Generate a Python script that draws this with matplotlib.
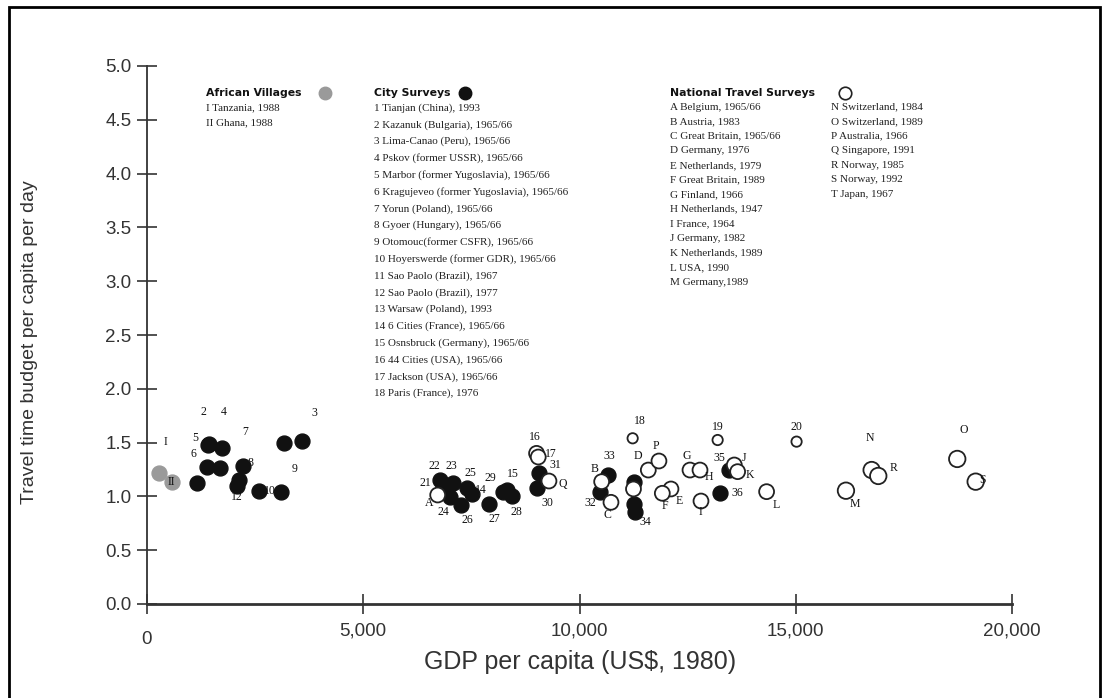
import matplotlib
matplotlib.use('Agg')
import matplotlib.pyplot as plt
from matplotlib.patches import Rectangle

W, H = 1109, 698

# --- African villages (grey) ---
vil_gdp = [285, 571]
vil_ttb = [1.215, 1.137]
vil_lab = ['I', 'II']

# --- city surveys, filled ---
city_gdp = [1688, 1440, 3167, 1727, 1418, 1380, 2213, 2127, 3091, 2597, 1163, 2074, 3591,
            7514, 8324, 9063, 9007, 6851, 6774, 7083, 7005, 7392, 7260, 7907, 8431, 8223,
            10651, 10474, 11268, 11268, 11286, 13456, 13248]
city_ttb = [1.26, 1.49, 1.499, 1.447, 1.478, 1.276, 1.283, 1.152, 1.038, 1.050, 1.122, 1.097, 1.518,
            1.022, 1.060, 1.215, 1.081, 1.112, 1.152, 1.122, 0.997, 1.075, 0.920, 0.927, 1.004, 1.040,
            1.199, 1.044, 1.13, 0.93, 0.858, 1.245, 1.029]
city_lab = ['1', '2', '3', '4', '5', '6', '7', '8', '9', '10', '11', '12', '13',
            '14', '15', '31', '30', '21', '22', '23', '24', '25', '26', '27', '28', '29',
            '33', '32', '', '', '34', '35', '36']
city_off = [(0, 0), (-6, 32), (30, 30), (2, 36), (-13, 7), (-13, 13), (2, 34), (12, 17), (14, 23),
            (11, 0), (0, 0), (0, -11), (0, 0),
            (9, 4), (6, 16), (16, 8), (11, -15), (-18, 1), (-6, 14), (-2, 17), (-7, -15), (4, 15),
            (6, -15), (5, -15), (5, -16), (-12, 14),
            (2, 19), (-10, -11), (0, 0), (0, 0), (10, -10), (-10, 12), (17, 0)]

# --- city surveys shown hollow ---
cityo_gdp = [9007, 9046, 11229, 13194, 15019]
cityo_ttb = [1.400, 1.366, 1.540, 1.524, 1.509]
cityo_lab = ['16', '17', '18', '19', '20']
cityo_off = [(-2, 16), (13, 3), (7, 17), (0, 13), (0, 15)]
cityo_size = [115, 115, 55, 55, 55]

# --- national travel surveys (hollow) ---
nat_gdp = [6721, 10512, 10728, 11591, 12115, 11915, 12555, 12786, 12809, 13579, 13656, 14326,
           16161, 16755, 18734, 11837, 9294, 16908, 19160, 11248]
nat_ttb = [1.013, 1.137, 0.945, 1.245, 1.069, 1.029, 1.245, 1.245, 0.957, 1.292, 1.230, 1.044,
           1.053, 1.245, 1.348, 1.329, 1.143, 1.190, 1.137, 1.069]
nat_lab = ['A', 'B', 'C', 'D', 'E', 'F', 'G', 'H', 'I', 'J', 'K', 'L',
           'M', 'N', 'O', 'P', 'Q', 'R', 'S', '']
nat_off = [(-9, -8), (-7, 13), (-4, -13), (-10, 14), (8, -12), (3, -13), (-3, 14), (9, -7), (-1, -11),
           (10, 7), (12, -3), (10, -13), (9, -13), (-2, 32), (7, 29), (-3, 15), (14, -3), (15, 8),
           (7, 2), (0, 0)]
nat_size = [115] * 12 + [140, 140, 140, 115, 115, 140, 140, 115]

# key texts
vil_names = ['I Tanzania, 1988', 'II Ghana, 1988']
city_names = ['1 Tianjan (China), 1993', '2 Kazanuk (Bulgaria), 1965/66',
              '3 Lima-Canao (Peru), 1965/66', '4 Pskov (former USSR), 1965/66',
              '5 Marbor (former Yugoslavia), 1965/66', '6 Kragujeveo (former Yugoslavia), 1965/66',
              '7 Yorun (Poland), 1965/66', '8 Gyoer (Hungary), 1965/66',
              '9 Otomouc(former CSFR), 1965/66', '10 Hoyerswerde (former GDR), 1965/66',
              '11 Sao Paolo (Brazil), 1967', '12 Sao Paolo (Brazil), 1977',
              '13 Warsaw (Poland), 1993', '14 6 Cities (France), 1965/66',
              '15 Osnsbruck (Germany), 1965/66', '16 44 Cities (USA), 1965/66',
              '17 Jackson (USA), 1965/66', '18 Paris (France), 1976']
nat_names1 = ['A Belgium, 1965/66', 'B Austria, 1983', 'C Great Britain, 1965/66',
              'D Germany, 1976', 'E Netherlands, 1979', 'F Great Britain, 1989',
              'G Finland, 1966', 'H Netherlands, 1947', 'I France, 1964',
              'J Germany, 1982', 'K Netherlands, 1989', 'L USA, 1990', 'M Germany,1989']
nat_names2 = ['N Switzerland, 1984', 'O Switzerland, 1989', 'P Australia, 1966',
              'Q Singapore, 1991', 'R Norway, 1985', 'S Norway, 1992', 'T Japan, 1967']

xticks = [0, 5000, 10000, 15000, 20000]
xticklabels = ['', '5,000', '10,000', '15,000', '20,000']
yticks = [0.0, 0.5, 1.0, 1.5, 2.0, 2.5, 3.0, 3.5, 4.0, 4.5, 5.0]

SANS = ['Liberation Sans', 'DejaVu Sans']
SERIF = ['Liberation Serif', 'DejaVu Serif']
GREY = '#9a9a9a'
INK = '#111111'
AXC = '#333333'


def fx(px):
    return px / W


def fy(py):
    return 1 - py / H


fig = plt.figure(figsize=(W / 100, H / 100), dpi=100)
ax = fig.add_axes([fx(147), fy(604), (1012 - 147) / W, (604 - 66) / H])

ms = 115
ax.scatter(vil_gdp, vil_ttb, s=ms, c=GREY, edgecolors=GREY, zorder=3)
ax.scatter(city_gdp, city_ttb, s=ms, c=INK, edgecolors=INK, zorder=3)
ax.scatter(cityo_gdp, cityo_ttb, s=cityo_size, facecolors='white', edgecolors='#222222',
           linewidths=1.3, zorder=4)
ax.scatter(nat_gdp, nat_ttb, s=nat_size, facecolors='white', edgecolors='#222222',
           linewidths=1.3, zorder=4)


def put_labels(xs, ys, labs, offs):
    for x, y, t, o in zip(xs, ys, labs, offs):
        if t:
            ax.annotate(t, (x, y), xytext=o, textcoords='offset pixels', ha='center', va='center',
                        fontsize=8.5, family=SERIF, color=INK, zorder=5)


put_labels(vil_gdp, vil_ttb, vil_lab, [(6, 31), (0, 0)])
put_labels(city_gdp, city_ttb, city_lab, city_off)
put_labels(cityo_gdp, cityo_ttb, cityo_lab, cityo_off)
put_labels(nat_gdp, nat_ttb, nat_lab, nat_off)

ax.set_xlim(0, 20000)
ax.set_ylim(0, 5)
ax.set_xticks(xticks)
ax.set_xticklabels(xticklabels)
ax.set_yticks(yticks)
ax.set_yticklabels(['%.1f' % v for v in yticks])
for s in ['top', 'right']:
    ax.spines[s].set_visible(False)
for s in ['left', 'bottom']:
    ax.spines[s].set_color(AXC)
    ax.spines[s].set_linewidth(1.3)
ax.spines['bottom'].set_linewidth(2.0)
ax.tick_params(direction='inout', length=14, width=1.2, color=AXC, labelcolor=AXC,
               labelsize=13.5)
ax.tick_params(axis='x', pad=6)
ax.tick_params(axis='y', pad=4)
for lab in ax.get_xticklabels() + ax.get_yticklabels():
    lab.set_family(SANS)
# the zero sits a little lower than the other x labels
ax.text(0, -0.05, '0', transform=ax.get_xaxis_transform(), ha='center', va='top',
        fontsize=13.5, family=SANS, color=AXC)

fig.text(fx(580), fy(662), 'GDP per capita (US$, 1980)', ha='center', va='center',
         fontsize=18, family=SANS, color=AXC)
fig.text(fx(30), fy(342), 'Travel time budget per capita per day', ha='center', va='center',
         rotation=90, fontsize=14, family=SANS, color=AXC)

# key blocks
HEAD = dict(fontsize=7.8, fontweight='bold', family=['DejaVu Sans'], color=INK,
            va='center', ha='left')
ITEM = dict(fontsize=8, family=SERIF, color='#222222', va='center', ha='left')
fig.text(fx(206), fy(93), 'African Villages', **HEAD)
fig.text(fx(374), fy(93), 'City Surveys', **HEAD)
fig.text(fx(670), fy(93), 'National Travel Surveys', **HEAD)
fig.add_artist(plt.Line2D([fx(325)], [fy(93)], marker='o', ms=9, color=GREY, mec=GREY,
                          transform=fig.transFigure))
fig.add_artist(plt.Line2D([fx(465)], [fy(93)], marker='o', ms=9, color=INK, mec=INK,
                          transform=fig.transFigure))
fig.add_artist(plt.Line2D([fx(845)], [fy(93)], marker='o', ms=9, mfc='white', mec='#222222',
                          mew=1.2, transform=fig.transFigure))
for i, t in enumerate(vil_names):
    fig.text(fx(206), fy(108 + 14.5 * i), t, **ITEM)
for i, t in enumerate(city_names):
    fig.text(fx(374), fy(108 + 16.8 * i), t, **ITEM)
for i, t in enumerate(nat_names1):
    fig.text(fx(670), fy(107 + 14.6 * i), t, **ITEM)
for i, t in enumerate(nat_names2):
    fig.text(fx(831), fy(107 + 14.6 * i), t, **ITEM)

# page frame
fig.add_artist(Rectangle((fx(9), -0.05), fx(1100 - 9), fy(7) + 0.05, transform=fig.transFigure,
                         fill=False, ec='black', lw=2))

fig.savefig('out.png', dpi=100)
